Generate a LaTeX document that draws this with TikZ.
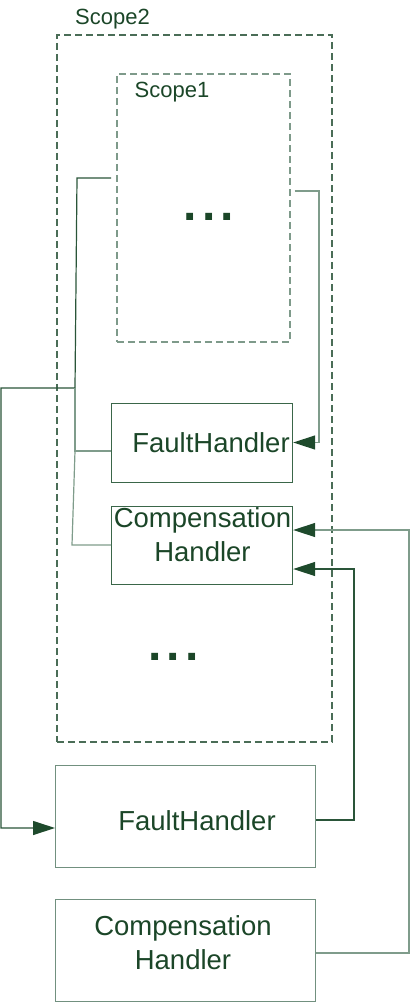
\documentclass[tikz,border=0pt]{standalone}
\usepackage{fontspec}
\setmainfont{Liberation Sans}
\usetikzlibrary{arrows.meta,calc}
\definecolor{txtc}{HTML}{1B4628}
\definecolor{dkline}{HTML}{2A5539}
\definecolor{ltline}{HTML}{7F9C8B}
\definecolor{boxdk}{HTML}{3A6649}
\definecolor{boxlt}{HTML}{71907F}
\definecolor{dashdk}{HTML}{4A6D57}
\definecolor{dashlt}{HTML}{7E9A8A}
\definecolor{arrowc}{HTML}{1E4A2C}
\tikzset{
  hbox/.style={draw=#1, line width=1.2pt, inner sep=0pt, rectangle, anchor=north west},
  scopebox/.style={draw=#1, line width=1.6pt, dash pattern=on 7pt off 4pt, inner sep=0pt, rectangle, anchor=north west},
  bigtxt/.style={text=txtc, font=\fontsize{27.5}{34}\selectfont, inner sep=0pt, align=center},
  smalltxt/.style={text=txtc, font=\fontsize{22}{26}\selectfont, inner sep=0pt},
  dots/.style={text=txtc, font=\fontsize{48}{50}\selectfont\bfseries, inner sep=0pt, anchor=base},
  conn/.style={draw=#1, line width=1.2pt},
  arr/.style={-{Triangle[length=22pt,width=14pt,color=arrowc]}}
}
\begin{document}
\begin{tikzpicture}[x=1pt,y=-1pt]
\useasboundingbox (0,0) rectangle (410,1002);
% scopes
\node[scopebox=dashdk, minimum width=275pt, minimum height=707pt] (s2) at (56,34) {};
\node[scopebox=dashlt, minimum width=173pt, minimum height=268pt] (s1) at (116,73) {};
\node[smalltxt, anchor=base] (s2t) at (112.5,24) {Scope2};
\node[smalltxt, anchor=base] (s1t) at (172,97) {Scope1};
\node[dots] (d1) at (209,220.3) {.\kern5.2pt.\kern5.2pt.};
\node[dots] (d2) at (173.5,660.3) {.\kern5.2pt.\kern5.2pt.};
% handler boxes
\node[hbox=boxdk, minimum width=181pt, minimum height=79pt] (fh1) at (111,403) {};
\node[hbox=boxdk, minimum width=181pt, minimum height=78pt] (ch1) at (111,506) {};
\node[hbox=boxlt, minimum width=260pt, minimum height=102pt] (fh2) at (55,765) {};
\node[hbox=boxlt, minimum width=260pt, minimum height=102pt] (ch2) at (55,899) {};
\node[bigtxt, anchor=base] (fh1t) at (211,452) {FaultHandler};
\node[bigtxt] (ch1t) at (202.5,535) {Compensation\\Handler};
\node[bigtxt, anchor=base] (fh2t) at (197,830) {FaultHandler};
\node[bigtxt] (ch2t) at (183,942.5) {Compensation\\Handler};
% connectors
\coordinate (j1) at (75,388);
\coordinate (j2) at (75,451);
\draw[conn=dkline, arr] ([xshift=-5pt]s1.west |- 0,178) -- (77,178) -- (j1) -- (1,388) -- (1,828) -- (fh2.west |- 0,828);
\draw[conn=ltline] (j1) -- (j2) -- (fh1.west |- 0,451);
\draw[conn=ltline] (j2) -- (72,545) -- (ch1.west |- 0,545);
\draw[conn=ltline, arr] ([xshift=4pt]s1.east |- 0,191) -- (319,191) -- (319,442.5) -- (fh1.east |- 0,442.5);
\draw[conn=dkline, arr] (fh2.east |- 0,820) -- (354,820) -- (354,569) -- (ch1.east |- 0,569);
\draw[conn=ltline, arr] (ch2.east |- 0,953) -- (409,953) -- (409,530) -- (ch1.east |- 0,530);
\end{tikzpicture}
\end{document}
